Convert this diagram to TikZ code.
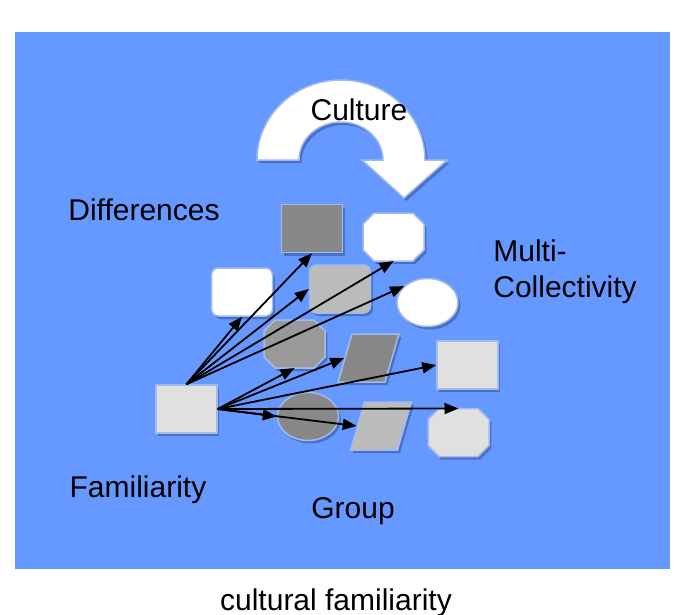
\documentclass[tikz,border=0pt]{standalone}
\usepackage{fontspec}
\setmainfont{Liberation Sans}
\usetikzlibrary{shapes.geometric,shadows,arrows.meta}

\definecolor{bgblue}{HTML}{6699FF}
\definecolor{edgeblue}{HTML}{A3BBE8}
\definecolor{shadowblue}{HTML}{2F4F9F}
\definecolor{fillDark}{HTML}{888888}
\definecolor{fillMid}{HTML}{999999}
\definecolor{fillLight}{HTML}{BBBBBB}
\definecolor{fillPale}{HTML}{E0E0E0}

\begin{document}
\begin{tikzpicture}[x=0.5pt, y=-0.5pt,
    outline/.style={draw=edgeblue, line width=0.75pt,
        drop shadow={shadow xshift=1.2pt, shadow yshift=-1.5pt, fill=shadowblue, opacity=0.55}},
    item/.style={outline, inner sep=0pt},
    boxitem/.style={item, rectangle, minimum width=30.5pt, minimum height=24pt},
    rounditem/.style={boxitem, rounded corners=3.5pt},
    octspot/.style={rectangle, inner sep=0pt, outer sep=0pt, minimum width=30.5pt, minimum height=24pt},
    ovalitem/.style={item, ellipse, minimum width=30.5pt, minimum height=24pt},
    slantitem/.style={item, rectangle, xslant=0.29, minimum width=23.5pt, minimum height=24pt},
    word/.style={font=\fontsize{15}{18}\selectfont, inner sep=0pt},
    arrow/.style={line width=0.9pt, -{Triangle[length=7pt,width=5.5pt]}}]

    \useasboundingbox (0,0) rectangle (690,615);
    \fill[bgblue] (15,32) rectangle (670,569);

    \filldraw[outline, fill=white]
        (257,160) arc[start angle=180, end angle=360, x radius=84, y radius=80]
        -- (447,160) -- (404,198) -- (362,160) -- (383,160)
        arc[start angle=360, end angle=180, x radius=42, y radius=38] -- cycle;

    \node (drect) [boxitem, fill=fillDark] at (312,228.5) {};
    \node (woct) [octspot] at (393.5,237) {};
    \filldraw[outline, fill=white] (woct.north west) ++(11,0) -- ++(39,0) -- ++(11,11) -- ++(0,26)
        -- ++(-11,11) -- ++(-39,0) -- ++(-11,-11) -- ++(0,-26) -- cycle;
    \node (wrr) [rounditem, fill=white] at (242,292) {};
    \node (lgrr) [rounditem, fill=fillLight] at (340,289) {};
    \node (well) [ovalitem, fill=white] at (427.5,302.5) {};
    \node (goct) [octspot] at (294.5,344) {};
    \filldraw[outline, fill=fillMid] (goct.north west) ++(11,0) -- ++(39,0) -- ++(11,11) -- ++(0,26)
        -- ++(-11,11) -- ++(-39,0) -- ++(-11,-11) -- ++(0,-26) -- cycle;
    \node (dpar) [slantitem, fill=fillDark] at (368.5,358) {};
    \node (lsq) [boxitem, fill=fillPale] at (467.5,365) {};
    \node (dell) [ovalitem, fill=fillDark] at (308,416.5) {};
    \node (lpar) [slantitem, fill=fillLight] at (381,426) {};
    \node (loct) [octspot] at (458.5,432.5) {};
    \filldraw[outline, fill=fillPale] (loct.north west) ++(11,0) -- ++(39,0) -- ++(11,11) -- ++(0,26)
        -- ++(-11,11) -- ++(-39,0) -- ++(-11,-11) -- ++(0,-26) -- cycle;
    \node (src) [boxitem, fill=fillPale] at (186.5,409) {};

    \draw [arrow] (src.north) -- (wrr.south);
    \draw [arrow] (src.north) -- (drect.south);
    \draw [arrow] (src.north) -- (lgrr.west);
    \draw [arrow] (src.north) -- (woct.south);
    \draw [arrow] (src.north) -- (well.145);
    \draw [arrow] (src.east) -- (goct.south);
    \draw [arrow] (src.east) -- (dpar.west);
    \draw [arrow] (src.east) -- (lsq.west);
    \draw [arrow] (src.east) -- (loct.north);
    \draw [arrow] (src.east) -- (dell.west);
    \draw [arrow] (src.east) -- (lpar.west);

    \node (culture) [word, anchor=base] at (359,120) {Culture};
    \node (diff) [word, anchor=base] at (144,220) {Differences};
    \node (multi) [word, anchor=north west, align=left] at (493,239) {Multi-\\Collectivity};
    \node (famil) [word, anchor=base] at (138,497) {Familiarity};
    \node (group) [word, anchor=base] at (353,518) {Group};
    \node (caption) [word, anchor=base] at (336,610) {cultural familiarity};

\end{tikzpicture}
\end{document}
